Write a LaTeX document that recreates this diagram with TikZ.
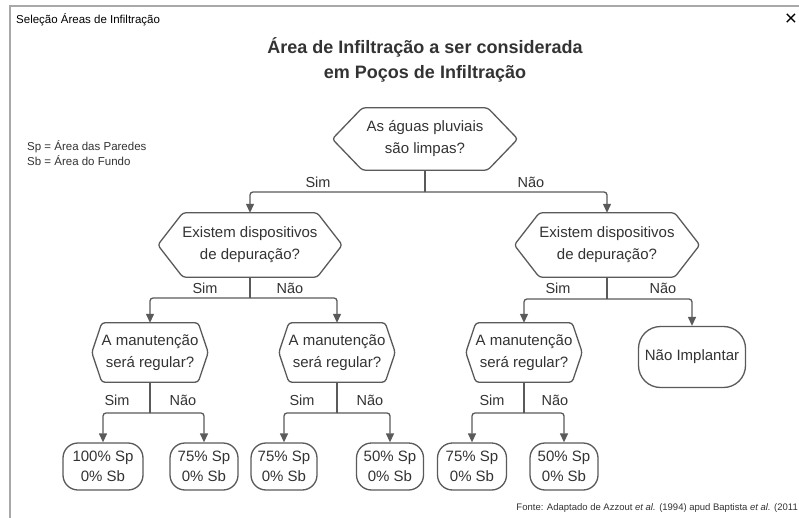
\documentclass[tikz,border=0pt]{standalone}
\usepackage{fontspec}
\setmainfont{Liberation Sans}
\usetikzlibrary{arrows.meta,calc}
\definecolor{ln}{HTML}{5A5A5A}
\definecolor{tx}{HTML}{333333}
\definecolor{win}{HTML}{A8A8A8}
\newcommand{\hexa}[2]{\draw[hexline] (#1.west) -- ($(#1.north west)+(#2,0)$) -- ($(#1.north east)+(-#2,0)$) -- (#1.east) -- ($(#1.south east)+(-#2,0)$) -- ($(#1.south west)+(#2,0)$) -- cycle;}
\begin{document}
\begin{tikzpicture}[x=1pt,y=-1pt,
  dec/.style={draw=none,inner sep=0pt,align=center,text=tx,font=\fontsize{15}{22}\selectfont},
  hexline/.style={draw=ln,line width=1.3pt,rounded corners=3pt,line join=round},
  term/.style={draw=ln,line width=1.3pt,rounded corners=15pt,inner sep=0pt,align=center,text=tx,font=\fontsize{15}{20}\selectfont,minimum height=47pt},
  arr/.style={draw=ln,line width=1.3pt,-{Triangle[length=9pt,width=8pt]},rounded corners=3pt},
  plain/.style={draw=ln,line width=1.3pt},
  lbl/.style={text=tx,font=\fontsize{14.5}{17}\selectfont,inner sep=0pt}]
\useasboundingbox (0,0) rectangle (799,518);
\fill[white] (0,0) rectangle (799,518);
% window
\draw[win,line width=1.6pt] (10,518) -- (10,6) -- (799,6);
\node[anchor=west,text=black,font=\fontsize{11.5}{13}\selectfont,inner sep=0pt] (wt) at (16,20) {Seleção Áreas de Infiltração};
\node[text=black,font=\fontsize{21}{21}\selectfont,inner sep=0pt] (wx) at (791,20) {×};
% title
\node[text=tx,font=\fontsize{18}{25}\selectfont\bfseries,align=center,inner sep=0pt] (title) at (425,60) {Área de Infiltração a ser considerada\\em Poços de Infiltração};
% legend
\node[anchor=west,text=tx,font=\fontsize{11.5}{15}\selectfont,align=left,inner sep=0pt] (leg) at (27,153) {Sp = Área das Paredes\\Sb = Área do Fundo};
% decisions
\node[dec,minimum width=185pt,minimum height=62pt] (top) at (425,139) {As águas pluviais\\são limpas?};
\hexa{top}{30}
\node[dec,minimum width=184pt,minimum height=64pt] (dl) at (250,245) {Existem dispositivos\\de depuração?};
\hexa{dl}{25}
\node[dec,minimum width=185pt,minimum height=64pt] (dr) at (607,245) {Existem dispositivos\\de depuração?};
\hexa{dr}{25}
\node[dec,minimum width=116pt,minimum height=59pt] (ma) at (150,352.5) {A manutenção\\será regular?};
\hexa{ma}{10}
\node[dec,minimum width=116pt,minimum height=59pt] (mb) at (337,352.5) {A manutenção\\será regular?};
\hexa{mb}{10}
\node[dec,minimum width=116pt,minimum height=59pt] (mc) at (524,352.5) {A manutenção\\será regular?};
\hexa{mc}{10}
% terminals
\node[term,minimum width=107pt,minimum height=61pt,rounded corners=22pt] (ni) at (692,357) {Não Implantar};
\node[term,minimum width=80pt] (b1) at (103,466.5) {100\% Sp\\0\% Sb};
\node[term,minimum width=68pt] (b2) at (204,466.5) {75\% Sp\\0\% Sb};
\node[term,minimum width=66pt] (b3) at (284,466.5) {75\% Sp\\0\% Sb};
\node[term,minimum width=67pt] (b4) at (390,466.5) {50\% Sp\\0\% Sb};
\node[term,minimum width=69pt] (b5) at (472,466.5) {75\% Sp\\0\% Sb};
\node[term,minimum width=68pt] (b6) at (564,466.5) {50\% Sp\\0\% Sb};
% junctions
\coordinate (j0) at (425,192);
\coordinate (jl) at (250,298);
\coordinate (jr) at (607,299);
\coordinate (ja) at (150,413);
\coordinate (jb) at (337,413);
\coordinate (jc) at (524,413);
% connectors
\draw[plain] (top.south) -- (j0);
\draw[arr] (j0) -| (dl.north);
\draw[arr] (j0) -| (dr.north);
\draw[plain] (dl.south) -- (jl);
\draw[arr] (jl) -| (ma.north);
\draw[arr] (jl) -| (mb.north);
\draw[plain] (dr.south) -- (jr);
\draw[arr] (jr) -| (mc.north);
\draw[arr] (jr) -| (ni.north);
\draw[plain] (ma.south) -- (ja);
\draw[arr] (ja) -| (b1.north);
\draw[arr] (ja) -| (b2.north);
\draw[plain] (mb.south) -- (jb);
\draw[arr] (jb) -| (b3.north);
\draw[arr] (jb) -| (b4.north);
\draw[plain] (mc.south) -- (jc);
\draw[arr] (jc) -| (b5.north);
\draw[arr] (jc) -| (b6.north);
% labels
\node[lbl] (s0) at (318,182) {Sim};
\node[lbl] (n0) at (531,182) {Não};
\node[lbl] (s1) at (205,288) {Sim};
\node[lbl] (n1) at (290,288) {Não};
\node[lbl] (s2) at (558,288) {Sim};
\node[lbl] (n2) at (663,288) {Não};
\node[lbl] (s3) at (117,400) {Sim};
\node[lbl] (n3) at (183,400) {Não};
\node[lbl] (s4) at (302,400) {Sim};
\node[lbl] (n4) at (370,400) {Não};
\node[lbl] (s5) at (492,400) {Sim};
\node[lbl] (n5) at (555,400) {Não};
% footer
\node[anchor=east,text=tx,font=\fontsize{9.5}{11}\selectfont,inner sep=0pt] (src) at (798,508) {Fonte: Adaptado de Azzout \textit{et al.} (1994) apud Baptista \textit{et al.} (2011};
\end{tikzpicture}
\end{document}
